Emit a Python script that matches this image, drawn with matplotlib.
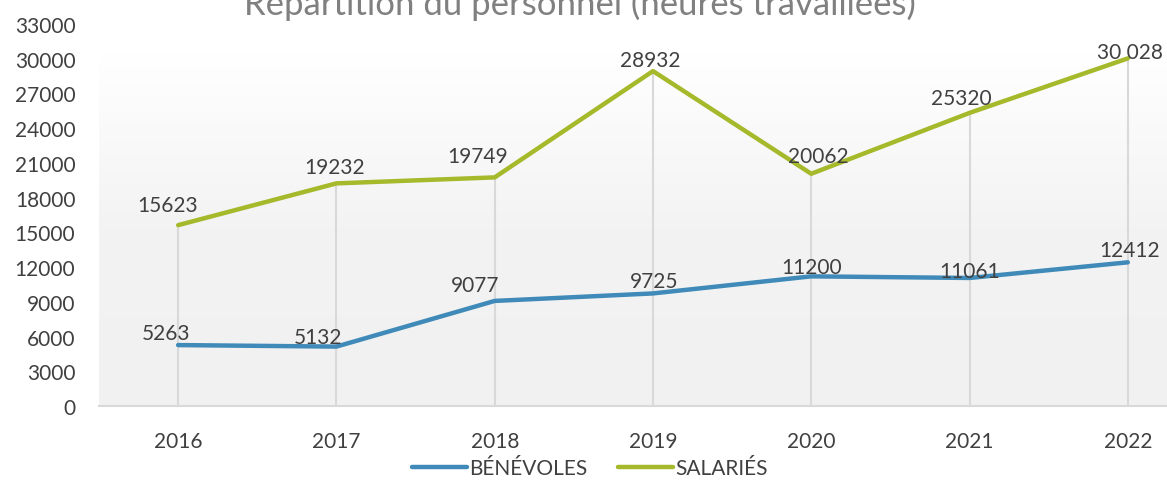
import numpy as np
import matplotlib.pyplot as plt
from matplotlib.colors import LinearSegmentedColormap

# Données
annees = ['2016', '2017', '2018', '2019', '2020', '2021', '2022']
benevoles = [5263, 5132, 9077, 9725, 11200, 11061, 12412]
salaries = [15623, 19232, 19749, 28932, 20062, 25320, 30028]
labels_benevoles = ['5263', '5132', '9077', '9725', '11200', '11061', '12412']
labels_salaries = ['15623', '19232', '19749', '28932', '20062', '25320', '30 028']
yticks = list(range(0, 33001, 3000))

plt.rcParams['font.family'] = ['Lato', 'DejaVu Sans']
txt = '#404040'
bleu = '#3f8ab8'
vert = '#a5b92a'

fig = plt.figure(figsize=(11.67, 4.81), dpi=100)
W, H = 1167, 481
ax = fig.add_axes([99 / W, 1 - 407 / H, 1 - 99 / W, (407 - 25) / H])

x = np.arange(len(annees))
xmax = (1167 - 178) / 158.3
ax.set_xlim(-0.5, xmax)
ax.set_ylim(0, 33000)

# fond en dégradé (blanc en haut, gris clair en bas)
cmap = LinearSegmentedColormap.from_list('fond', ['#f1f1f1', '#f3f3f3', '#ffffff'])
grad = np.linspace(0, 1, 256).reshape(-1, 1)
ax.imshow(grad, cmap=cmap, aspect='auto', origin='lower',
          extent=[-0.5, xmax, 0, 30500], zorder=0)

# lignes verticales jusqu'aux points
ax.vlines(x, 0, salaries, color='#d9d9d9', lw=1.5, zorder=1)

ax.plot(x, benevoles, color=bleu, lw=3.2, label='BÉNÉVOLES', zorder=3,
        solid_capstyle='round')
ax.plot(x, salaries, color=vert, lw=3.2, label='SALARIÉS', zorder=3,
        solid_capstyle='round')

# étiquettes de données (décalages en pixels, ligne de base)
off_b = [(-12, 6), (-18, 4), (-20, 10), (1, 6), (0, 3), (0, 1), (2, 6)]
off_s = [(-11, 14), (-2, 10), (-17, 15), (-3, 5), (7, 12), (-8, 9), (2, 0)]
for i in range(len(annees)):
    ax.annotate(labels_benevoles[i], (x[i], benevoles[i]), textcoords='offset pixels',
                xytext=off_b[i], ha='center', va='baseline', fontsize=15, color=txt, zorder=4)
    ax.annotate(labels_salaries[i], (x[i], salaries[i]), textcoords='offset pixels',
                xytext=off_s[i], ha='center', va='baseline', fontsize=15, color=txt, zorder=4)

ax.set_xticks(x)
ax.set_xticklabels(annees)
ax.set_yticks(yticks)
ax.set_yticklabels([str(v) for v in yticks])
ax.tick_params(axis='both', length=0, labelsize=15, labelcolor=txt)
ax.tick_params(axis='x', pad=18)
ax.tick_params(axis='y', pad=17)

for s in ['top', 'right', 'left']:
    ax.spines[s].set_visible(False)
ax.spines['bottom'].set_color('#d9d9d9')
ax.spines['bottom'].set_linewidth(1.5)

fig.text(580 / W, 1 - 15 / H, 'Répartition du personnel (heures travaillées)',
         ha='center', va='baseline', fontsize=25, color='#808080')

fig.legend(loc='center', bbox_to_anchor=(590 / W, 1 - 469 / H), ncol=2, frameon=False,
           fontsize=15, labelcolor=txt, handlelength=2.65, handletextpad=0.1,
           columnspacing=1.45)

fig.savefig('out.png', dpi=100)
